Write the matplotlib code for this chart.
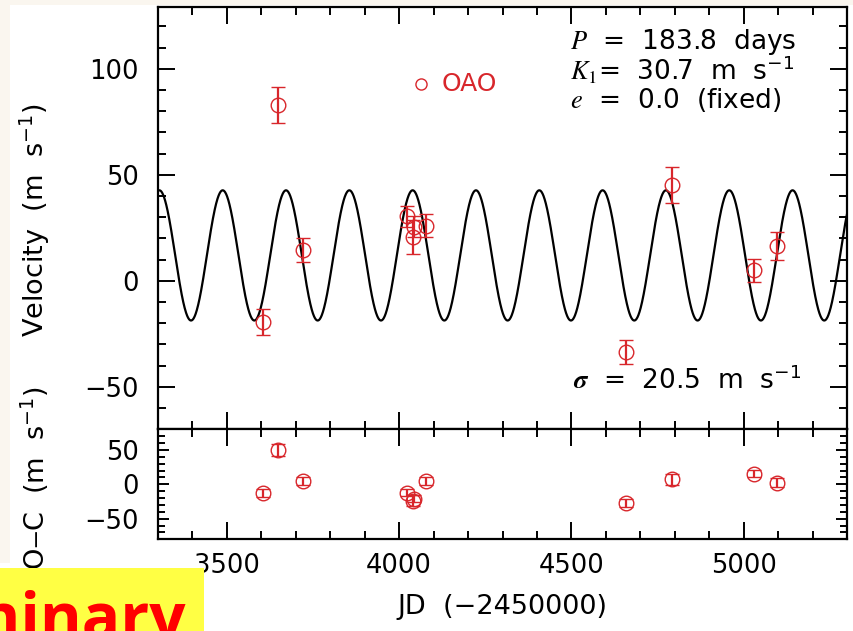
import numpy as np
import matplotlib
matplotlib.use("Agg")
import matplotlib.pyplot as plt
from matplotlib.ticker import MultipleLocator
from matplotlib.patches import Rectangle

# ---- data ----
jd = [3604, 3647, 3722, 4024, 4041, 4044, 4078, 4658, 4791, 5030, 5096]
vel = [-19.5, 83, 14.5, 30.5, 20.5, 25.5, 26, -33.5, 45, 5, 16.5]
vel_err = [6, 8.5, 5.5, 5, 8, 5, 5.5, 5.5, 8.5, 5.5, 6.5]
oc = [-12.5, 49.5, 4.5, -12, -24, -21, 4.5, -27, 7, 15.5, 2]

period = 183.8
k1 = 30.7
gamma = 12.0
t_peak = 3487.8

red = '#d8262b'
plt.rcParams['font.family'] = ['DejaVu Sans']
plt.rcParams['mathtext.fontset'] = 'stix'

W, H = 854, 631
fig = plt.figure(figsize=(W / 100, H / 100), dpi=100)
fig.patch.set_facecolor('white')

# beige margins
fig.add_artist(Rectangle((0, (H - 563) / H), 10 / W, 563 / H, transform=fig.transFigure,
                         facecolor='#faf6ef', edgecolor='none', zorder=-10))
fig.add_artist(Rectangle((0, (H - 5) / H), 1, 5 / H, transform=fig.transFigure,
                         facecolor='#faf6ef', edgecolor='none', zorder=-10))

ax1 = fig.add_axes([158 / W, (H - 429.3) / H, 689 / W, 422 / H])
ax2 = fig.add_axes([158 / W, (H - 539.3) / H, 689 / W, 110 / H], sharex=ax1)

t = np.linspace(3300, 5300, 3000)
model = gamma + k1 * np.cos(2 * np.pi * (t - t_peak) / period)
ax1.plot(t, model, color='black', lw=1.6, zorder=2)

ekw = dict(fmt='o', ms=10.5, mfc='none', mec=red, mew=1.0, ecolor=red,
           elinewidth=1.6, capsize=5, capthick=1.6, zorder=3)
ax1.errorbar(jd, vel, yerr=vel_err, **ekw)
ax2.errorbar(jd, oc, yerr=vel_err, **ekw)

ax1.set_xlim(3300, 5300)
ax1.set_ylim(-70, 129)
ax2.set_ylim(-80, 80)

for ax in (ax1, ax2):
    ax.xaxis.set_major_locator(MultipleLocator(500))
    ax.xaxis.set_minor_locator(MultipleLocator(100))
    ax.yaxis.set_major_locator(MultipleLocator(50))
    ax.yaxis.set_minor_locator(MultipleLocator(10))
    ax.tick_params(which='both', direction='in', top=True, right=True,
                   width=1.4, labelsize=18.5, colors='black')
    ax.tick_params(which='major', length=12)
    ax.tick_params(which='minor', length=6)
    ax.tick_params(axis='y', pad=14)
    ax.tick_params(axis='x', pad=10)
    for s in ax.spines.values():
        s.set_linewidth(1.6)
ax2.tick_params(which='major', axis='y', length=8)
ax2.tick_params(which='minor', axis='y', length=5)
ax1.tick_params(axis='x', labelbottom=False)

txt_kw = dict(transform=ax1.transAxes, fontsize=19, color='black', va='center', ha='left')
ax1.text(0.598, 0.918, r'$P$  =  183.8  days', **txt_kw)
ax1.text(0.598, 0.851, r'$K_1$=  30.7  m  s$\mathregular{^{-1}}$', **txt_kw)
ax1.text(0.598, 0.780, r'$e$  =  0.0  (fixed)', **txt_kw)
ax1.text(0.602, 0.114, r'$\boldsymbol{\sigma}$  =  20.5  m  s$\mathregular{^{-1}}$', **txt_kw)

ax1.plot([0.382], [0.819], 'o', ms=8, mfc='none', mec=red, mew=1.0, transform=ax1.transAxes)
ax1.text(0.411, 0.819, 'OAO', transform=ax1.transAxes, fontsize=18, color=red,
         va='center', ha='left')

fig.text(35 / W, 1 - 220 / H, r'Velocity  (m  s$\mathregular{^{-1}}$)', rotation=90,
         fontsize=19.5, ha='center', va='center')
fig.text(35 / W, 1 - 478 / H, r'O$-$C  (m  s$\mathregular{^{-1}}$)', rotation=90,
         fontsize=19.5, ha='center', va='center')
fig.text(502 / W, 1 - 607 / H, 'JD  (\u22122450000)', fontsize=19.5, ha='center', va='center')

# "Preliminary" label box
fig.add_artist(Rectangle((0, 0), 204 / W, (H - 568) / H, transform=fig.transFigure,
                         facecolor='#ffff44', edgecolor='none', zorder=5))
fig.text(186 / W, -8 / H, 'Preliminary', fontsize=46, fontweight='bold', color='#ff0000',
         ha='right', va='baseline', zorder=6, family='Open Sans')

fig.savefig('out.png', dpi=100)
